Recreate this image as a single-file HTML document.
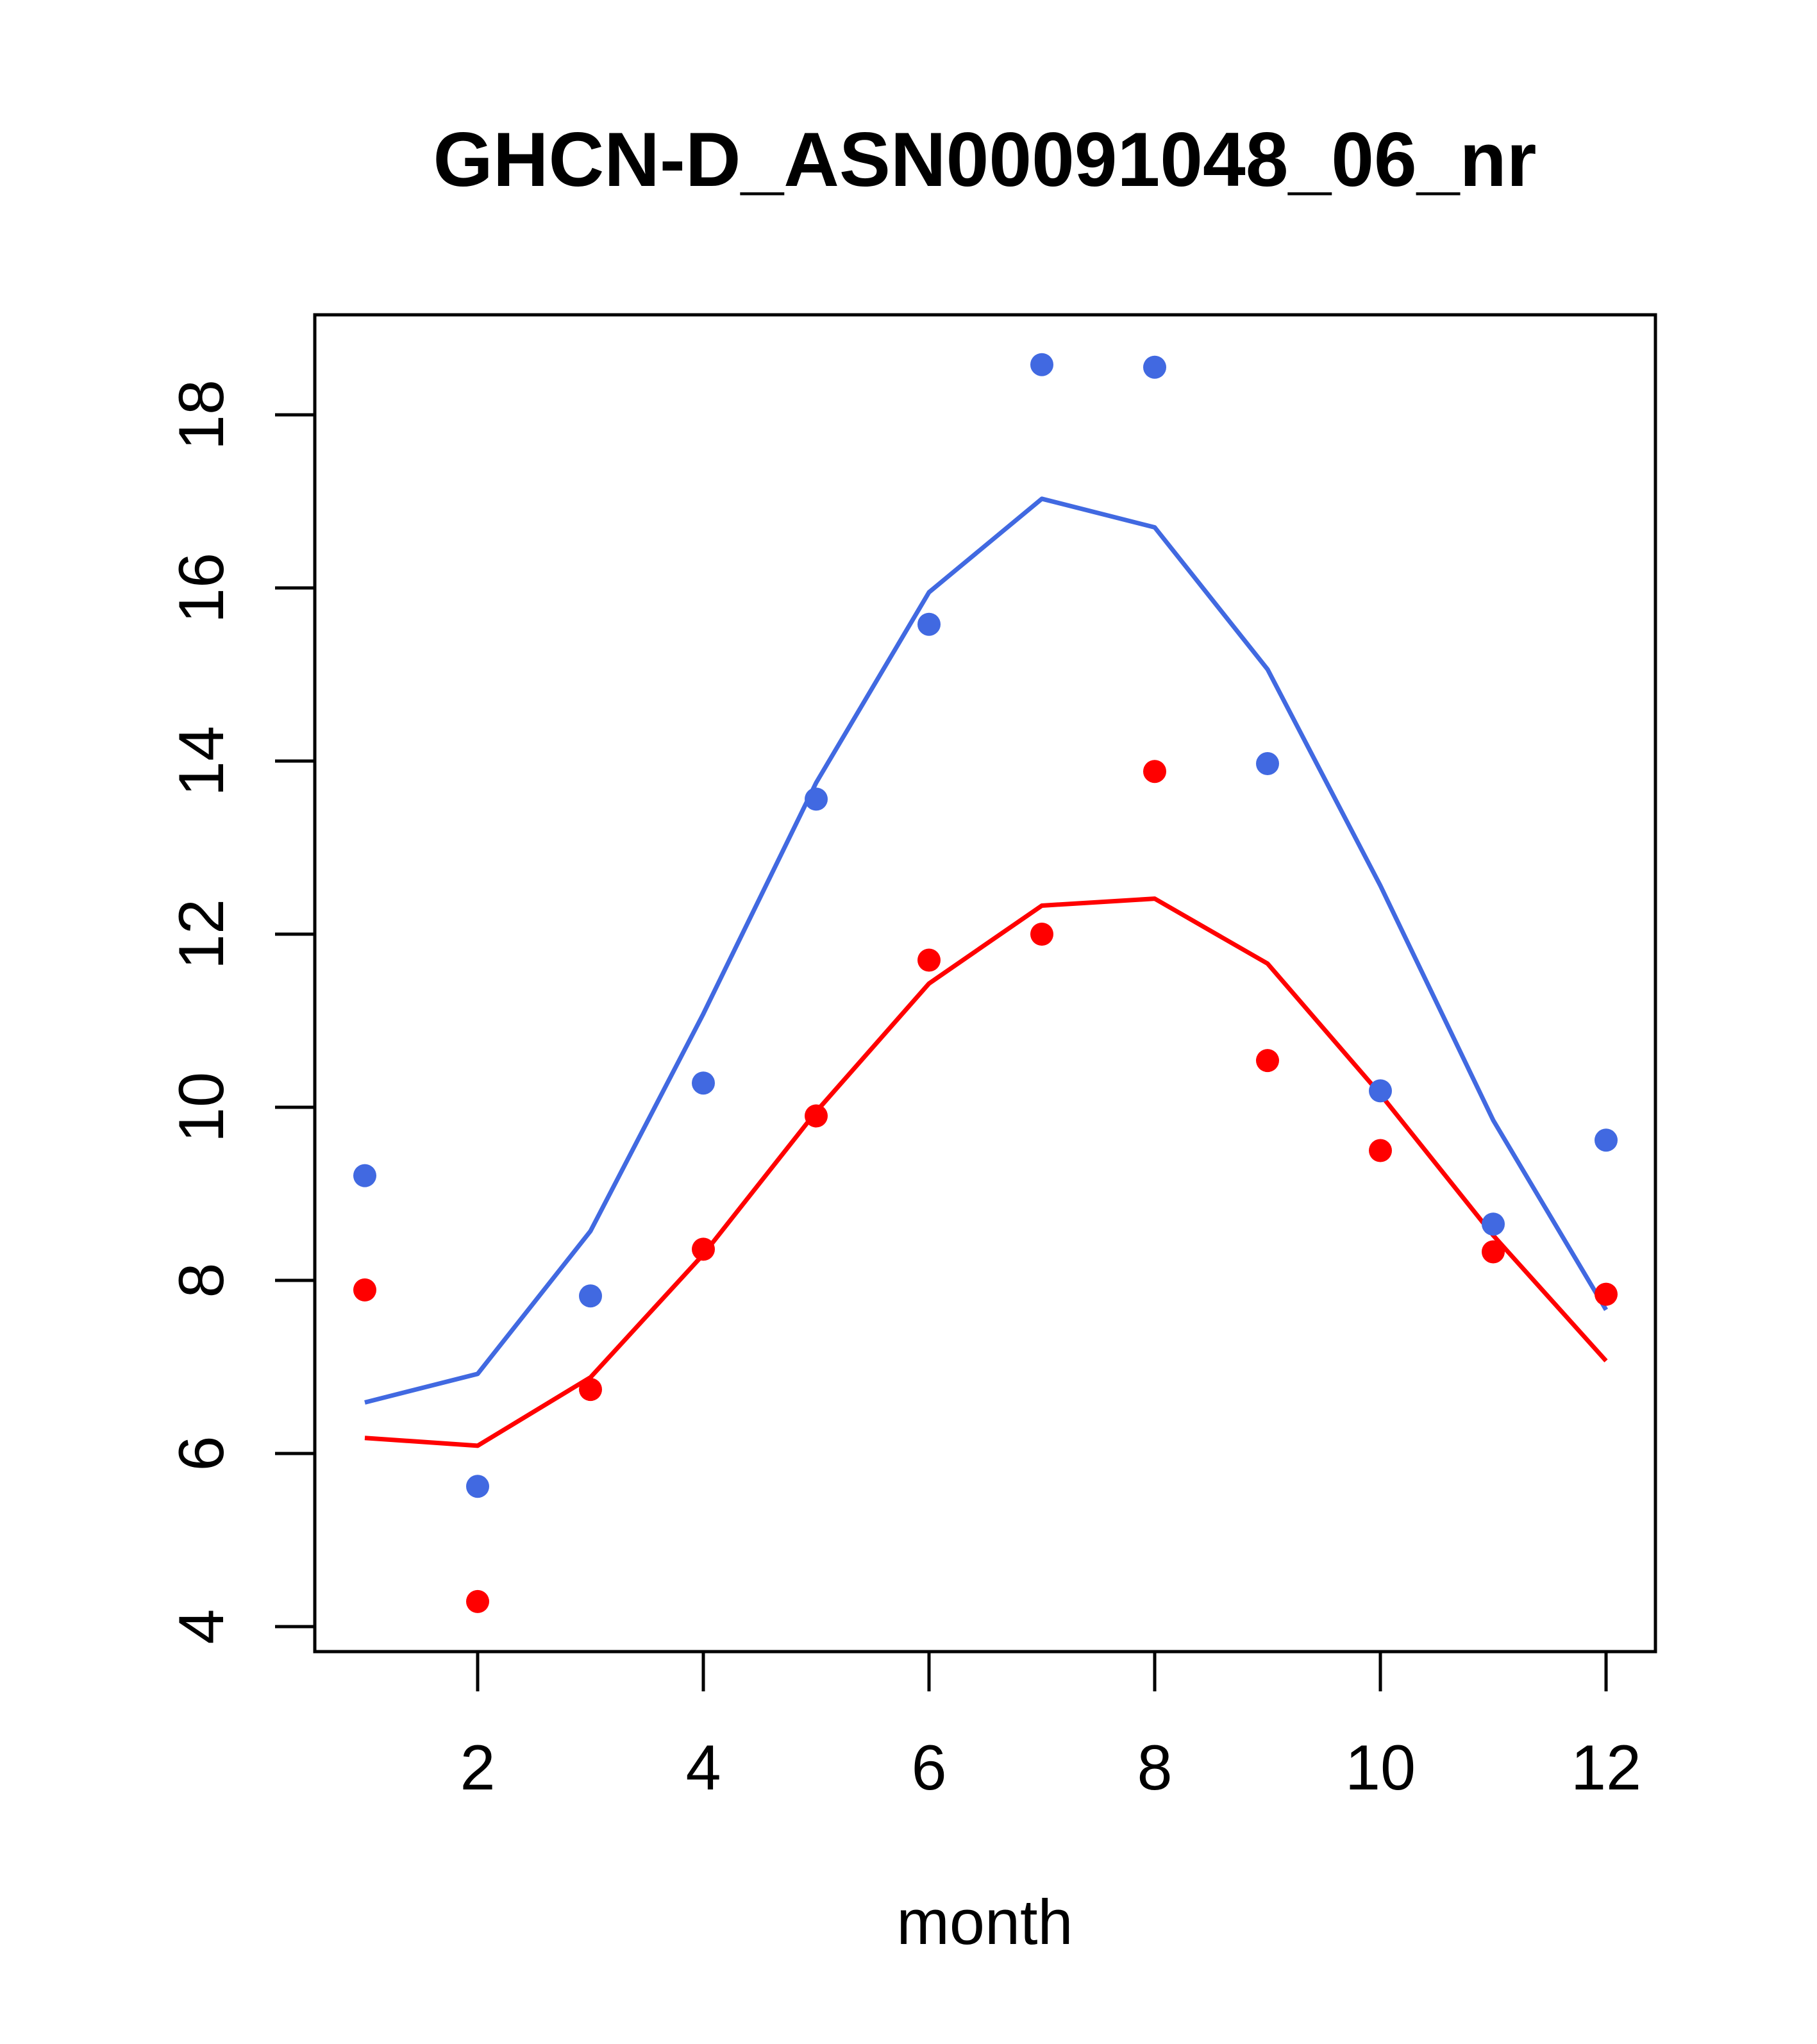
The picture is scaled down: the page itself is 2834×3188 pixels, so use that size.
<!DOCTYPE html>
<html><head><meta charset="utf-8"><style>html,body{margin:0;padding:0;background:#fff}svg{display:block}</style></head>
<body>
<svg id="chart" xmlns="http://www.w3.org/2000/svg" width="2834" height="3188" viewBox="0 0 2834 3188" font-family="Liberation Sans, Arial, sans-serif">
<rect width="2834" height="3188" fill="#fff"/>
<text x="1536" y="290" font-size="120" font-weight="bold" text-anchor="middle">GHCN-D_ASN00091048_06_nr</text>
<rect x="491" y="491" width="2091" height="2085" fill="none" stroke="#000" stroke-width="5"/>
<g id="xaxis"></g>
<g id="yaxis"></g>
<text x="1536" y="3032" font-size="99" text-anchor="middle">month</text>
<g id="series"></g>
</svg>
<script>
const months = [1,2,3,4,5,6,7,8,9,10,11,12];
const bluePoints = [9.21,5.62,7.82,10.28,13.56,15.58,18.58,18.55,13.97,10.19,8.65,9.62];
const redPoints = [7.89,4.29,6.74,8.36,9.90,11.70,12.00,13.88,10.54,9.50,8.33,7.84];
const blueLine = [6.59,6.92,8.57,11.08,13.75,15.95,17.03,16.70,15.06,12.56,9.85,7.66];
const redLine = [6.18,6.09,6.88,8.30,9.95,11.43,12.33,12.41,11.66,10.15,8.52,7.07];
const xTicks = [2,4,6,8,10,12];
const yTicks = [4,6,8,10,12,14,16,18];
const NS='http://www.w3.org/2000/svg';
function xs(m){return 569+(m-1)*176;}
function ys(v){return 2537-(v-4)*135;}
function mk(tag,attrs,parent){const e=document.createElementNS(NS,tag);for(const k in attrs)e.setAttribute(k,attrs[k]);parent.appendChild(e);return e;}
const xa=document.getElementById('xaxis'), ya=document.getElementById('yaxis'), sg=document.getElementById('series');
xTicks.forEach(t=>{
  const l=mk('line',{x1:xs(t),x2:xs(t),y1:2576,y2:2638,stroke:'#000','stroke-width':5},xa);
  
  
  const tx=mk('text',{x:xs(t),y:2791,'font-size':99,'text-anchor':'middle'},xa);
  tx.textContent=t;
  
  
});
yTicks.forEach(t=>{
  const l=mk('line',{x1:429,x2:491,y1:ys(t),y2:ys(t),stroke:'#000','stroke-width':5},ya);
  
  
  const tx=mk('text',{x:348,y:ys(t),'font-size':99,'text-anchor':'middle',transform:'rotate(-90 348 '+ys(t)+')'},ya);
  tx.textContent=t;
  
  
});
function line(vals,col,name){
  const p=mk('polyline',{points:vals.map((v,i)=>xs(months[i])+','+ys(v)).join(' '),fill:'none',stroke:col,'stroke-width':7,'stroke-linejoin':'round'},sg);
  
  
}
function pts(vals,col,name){
  vals.forEach((v,i)=>{
    const c=mk('circle',{cx:xs(months[i]),cy:ys(v),r:18,fill:col},sg);
    
    
  });
}
line(blueLine,'#4169E1','blue-fit-line');
line(redLine,'#FF0000','red-fit-line');
pts(bluePoints,'#4169E1','blue-point');
pts(redPoints,'#FF0000','red-point');
</script>
</body></html>
